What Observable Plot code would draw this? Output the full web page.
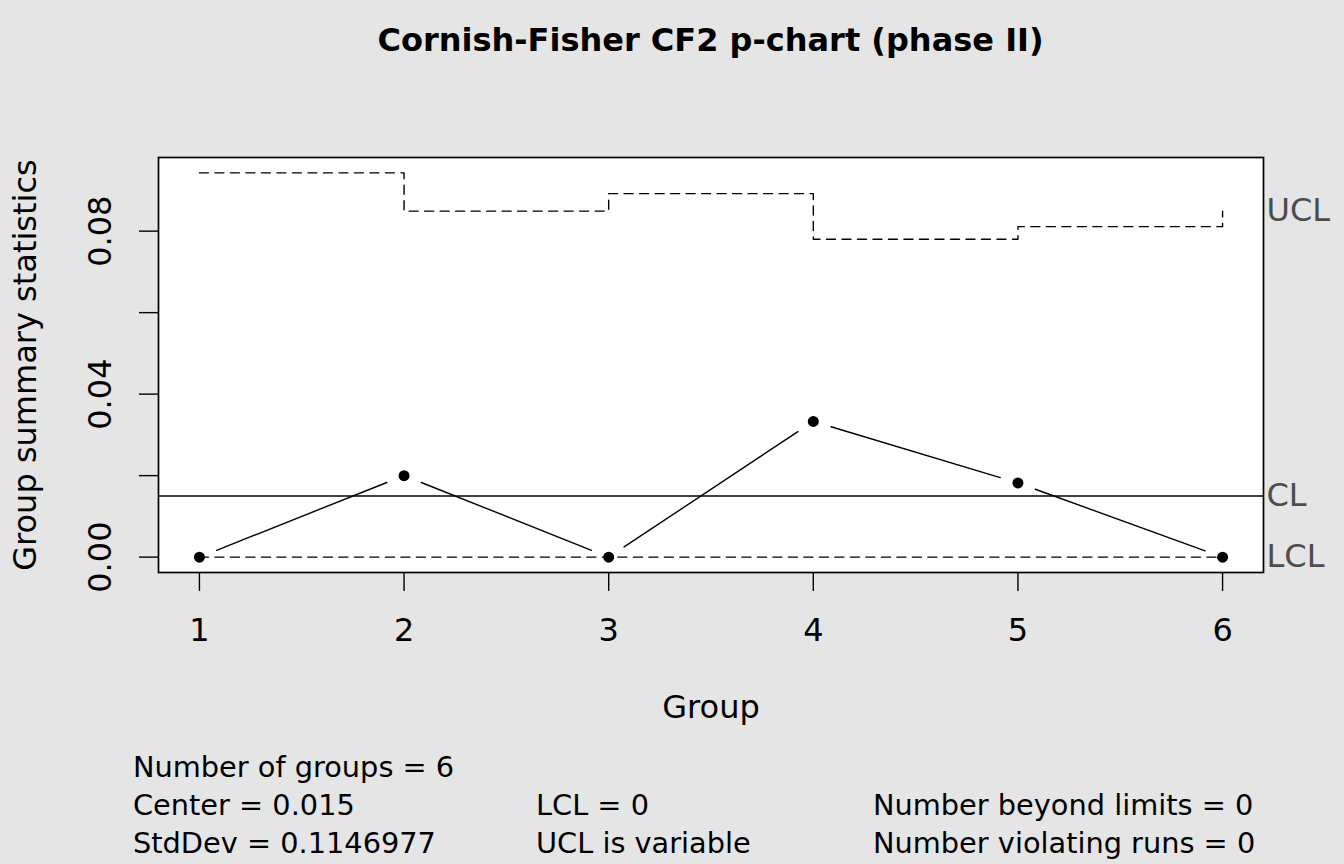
<!DOCTYPE html>
<html>
<head>
<meta charset="utf-8">
<script src="https://cdn.jsdelivr.net/npm/d3@7"></script>
<script src="https://cdn.jsdelivr.net/npm/@observablehq/plot@0.6"></script>
<style>
  html, body { margin: 0; padding: 0; background: #e5e5e5; }
  #page { position: relative; width: 1344px; height: 864px; background: #e5e5e5; font-family: "DejaVu Sans", sans-serif; overflow: hidden; }
  #title { position: absolute; left: 158px; top: 0; width: 1105px; height: 80px; line-height: 80px; text-align: center; font-weight: bold; font-size: 32px; color: #000; }
  #chart { position: absolute; left: 0; top: 80px; }
  #chart svg { display: block; }
  .stat { position: absolute; font-size: 28.8px; color: #000; white-space: pre; line-height: 30px; }
</style>
</head>
<body>
<div id="page">
  <div id="title"></div>
  <div id="chart"></div>
  <div id="stats"></div>
</div>
<script>
// ---- data ----
const chartTitle = "Cornish-Fisher CF2 p-chart (phase II)";
const xTitle = "Group";
const yTitle = "Group summary statistics";
const groups = [1, 2, 3, 4, 5, 6];
const pValues = [0, 0.02, 0, 0.0333, 0.0182, 0];
const uclValues = [0.0943, 0.0849, 0.0892, 0.0780, 0.0811, 0.0849];
const lclValues = [0, 0, 0, 0, 0, 0];
const centerValue = 0.015;
const yTicks = [0, 0.02, 0.04, 0.06, 0.08];
const yTickLabels = ["0.00", "", "0.04", "", "0.08"];
const limitLabels = ["UCL", "CL", "LCL"];
const statsCol1 = ["Number of groups = 6", "Center = 0.015", "StdDev = 0.1146977"];
const statsCol2 = ["", "LCL = 0", "UCL is variable"];
const statsCol3 = ["", "Number beyond limits = 0", "Number violating runs = 0"];

// ---- derived tables ----
const points = groups.map((g, i) => ({x: g, y: pValues[i]}));
const ucl = groups.map((g, i) => ({x: g, y: uclValues[i]}));
const lcl = groups.map((g, i) => ({x: g, y: lclValues[i]}));
const segments = groups.slice(1).map((g, i) => ({x1: groups[i], y1: pValues[i], x2: g, y2: pValues[i + 1]}));
const yLabelData = yTicks.map((v, i) => ({v, t: yTickLabels[i]})).filter(d => d.t);
const limitData = [
  {v: uclValues[uclValues.length - 1], t: limitLabels[0]},
  {v: centerValue, t: limitLabels[1]},
  {v: lclValues[lclValues.length - 1], t: limitLabels[2]}
];

// R-style 4% range extension
const ymin = Math.min(0, ...pValues, ...lclValues), ymax = Math.max(...pValues, ...uclValues);
const yext = (ymax - ymin) * 0.04;
const xext = (groups[groups.length - 1] - groups[0]) * 0.04;

document.getElementById("title").textContent = chartTitle;

const dash = "9,6.5";
const lw = 1.4;
const fs = 32;

const chart = Plot.plot({
  width: 1344,
  height: 660,
  marginTop: 77,
  marginBottom: 168,
  marginLeft: 158,
  marginRight: 81,
  style: {background: "transparent", fontFamily: "DejaVu Sans, sans-serif", color: "black", overflow: "visible"},
  x: {domain: [groups[0] - xext, groups[groups.length - 1] + xext], axis: null},
  y: {domain: [ymin - yext, ymax + yext], axis: null},
  marks: [
    Plot.frame({fill: "white", stroke: null}),
    Plot.ruleY([centerValue], {stroke: "black", strokeWidth: lw}),
    Plot.line(ucl, {x: "x", y: "y", curve: "step-after", stroke: "black", strokeWidth: lw, strokeDasharray: dash}),
    Plot.line(lcl, {x: "x", y: "y", curve: "step-after", stroke: "black", strokeWidth: lw, strokeDasharray: dash}),
    Plot.arrow(segments, {x1: "x1", y1: "y1", x2: "x2", y2: "y2", insetStart: 18.5, insetEnd: 18.5, headLength: 0, stroke: "black", strokeWidth: lw}),
    Plot.dot(points, {x: "x", y: "y", r: 5.5, fill: "black", stroke: null}),
    Plot.frame({stroke: "black", strokeWidth: 1.7}),
    Plot.axisX({ticks: groups, tickSize: 19, tickPadding: 27, tickFormat: d => String(d), label: null, fontSize: fs, strokeWidth: 1.4}),
    Plot.axisY({ticks: yTicks, tickSize: 19, tickFormat: () => "", label: null, strokeWidth: 1.4}),
    Plot.text(yLabelData, {y: "v", text: "t", frameAnchor: "left", dx: -58, rotate: -90, textAnchor: "middle", lineAnchor: "middle", fontSize: fs, fill: "black"}),
    Plot.text(limitData, {y: "v", text: "t", frameAnchor: "right", dx: 3, textAnchor: "start", lineAnchor: "middle", fontSize: fs, fill: "#4d4d4d"}),
    Plot.text([xTitle], {text: d => d, frameAnchor: "bottom", dy: 135, textAnchor: "middle", lineAnchor: "middle", fontSize: fs, fill: "black"}),
    Plot.text([yTitle], {text: d => d, frameAnchor: "left", dx: -133, rotate: -90, textAnchor: "middle", lineAnchor: "middle", fontSize: fs, fill: "black"})
  ]
});
document.getElementById("chart").appendChild(chart);

// stats block
const stats = document.getElementById("stats");
const colX = [133, 536, 873];
const rowY = [752, 790, 828];
[statsCol1, statsCol2, statsCol3].forEach((col, ci) => {
  col.forEach((txt, ri) => {
    if (!txt) return;
    const d = document.createElement("div");
    d.className = "stat";
    d.style.left = colX[ci] + "px";
    d.style.top = rowY[ri] + "px";
    d.textContent = txt;
    stats.appendChild(d);
  });
});
</script>
</body>
</html>
